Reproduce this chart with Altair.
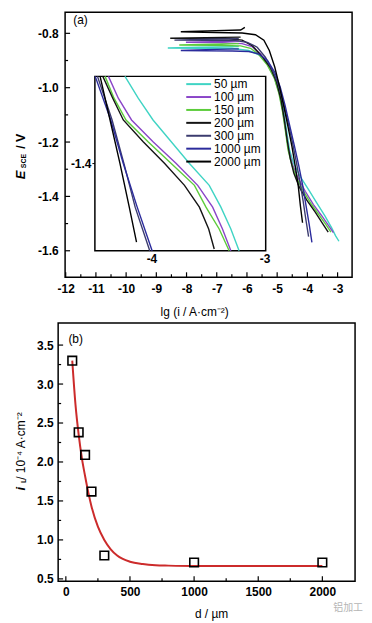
import altair as alt
import pandas as pd

FONT = "Liberation Sans"
series = ["50 µm", "100 µm", "150 µm", "200 µm", "300 µm", "1000 µm", "2000 µm"]
colors = ["#3fd4c4", "#8a45c8", "#5ccc3a", "#141414", "#3b3b6e", "#2b2b9c", "#000000"]

# ---- panel (a): main polarization curves (lg i, E) ----
lg_50 = [-2.955, -3.065, -3.20, -3.42, -3.69, -3.96, -4.24, -4.46, -4.59, -4.69, -4.79, -4.90, -5.06, -5.28, -5.55, -5.94, -6.49, -7.58, -8.62, -7.58, -6.27]
E_50 = [-1.565, -1.545, -1.515, -1.472, -1.424, -1.375, -1.326, -1.277, -1.229, -1.156, -1.083, -1.022, -0.961, -0.912, -0.882, -0.863, -0.856, -0.855, -0.854, -0.851, -0.849]
lg_100 = [-3.14, -3.31, -3.52, -3.80, -4.07, -4.31, -4.49, -4.62, -4.72, -4.82, -4.93, -5.08, -5.30, -5.55, -5.83, -6.16, -6.92, -8.02, -7.14, -6.27]
E_100 = [-1.533, -1.506, -1.472, -1.430, -1.381, -1.332, -1.284, -1.229, -1.156, -1.083, -1.022, -0.967, -0.918, -0.876, -0.849, -0.838, -0.834, -0.833, -0.831, -0.828]
lg_150 = [-3.22, -3.39, -3.61, -3.88, -4.14, -4.37, -4.52, -4.64, -4.73, -4.83, -4.94, -5.10, -5.33, -5.61, -5.88, -6.21, -7.14, -8.24, -7.14, -6.27]
E_150 = [-1.531, -1.503, -1.469, -1.427, -1.379, -1.330, -1.281, -1.229, -1.156, -1.083, -1.022, -0.963, -0.916, -0.878, -0.855, -0.846, -0.844, -0.843, -0.840, -0.838]
lg_200 = [-3.31, -3.50, -3.74, -4.02, -4.27, -4.45, -4.57, -4.67, -4.76, -4.87, -5.02, -5.22, -5.50, -5.83, -6.16, -6.60, -7.58, -8.54, -7.36, -6.21]
E_200 = [-1.531, -1.499, -1.458, -1.414, -1.365, -1.314, -1.259, -1.192, -1.119, -1.046, -0.979, -0.927, -0.885, -0.845, -0.825, -0.820, -0.819, -0.818, -0.816, -0.814]
lg_300 = [-3.96, -4.05, -4.14, -4.24, -4.36, -4.49, -4.63, -4.79, -4.95, -5.15, -5.39, -5.66, -5.99, -6.38, -7.36, -8.40, -7.36, -6.27]
E_300 = [-1.548, -1.485, -1.417, -1.350, -1.277, -1.204, -1.131, -1.058, -0.991, -0.937, -0.888, -0.851, -0.833, -0.827, -0.826, -0.825, -0.822, -0.820]
lg_1000 = [-3.85, -3.94, -4.05, -4.16, -4.29, -4.435, -4.59, -4.74, -4.90, -5.08, -5.32, -5.61, -5.94, -6.49, -7.36, -8.19, -7.36, -6.27]
E_1000 = [-1.569, -1.503, -1.430, -1.357, -1.284, -1.211, -1.137, -1.064, -0.997, -0.943, -0.900, -0.876, -0.867, -0.865, -0.864, -0.863, -0.860, -0.857]
lg_2000 = [-4.16, -4.23, -4.30, -4.40, -4.51, -4.64, -4.775, -4.92, -5.08, -5.26, -5.44, -5.72, -6.16, -7.03, -8.19, -7.03, -6.21, -6.07]
E_2000 = [-1.497, -1.436, -1.363, -1.290, -1.217, -1.144, -1.071, -0.997, -0.924, -0.863, -0.825, -0.805, -0.799, -0.797, -0.794, -0.790, -0.788, -0.778]

# ---- panel (a): inset curves ----
ilg_50 = [-4.234, -4.117, -3.986, -3.825, -3.664, -3.489, -3.386, -3.298, -3.225]
iE_50 = [-1.300, -1.325, -1.350, -1.375, -1.400, -1.425, -1.450, -1.475, -1.500]
ilg_100 = [-4.380, -4.293, -4.176, -3.986, -3.781, -3.591, -3.459, -3.372, -3.298]
iE_100 = [-1.300, -1.325, -1.350, -1.375, -1.400, -1.425, -1.450, -1.475, -1.500]
ilg_150 = [-4.410, -4.331, -4.225, -4.030, -3.825, -3.620, -3.518, -3.401, -3.313]
iE_150 = [-1.300, -1.325, -1.350, -1.375, -1.400, -1.425, -1.450, -1.475, -1.500]
ilg_200 = [-4.430, -4.342, -4.249, -4.073, -3.883, -3.708, -3.576, -3.494, -3.445]
iE_200 = [-1.300, -1.325, -1.350, -1.375, -1.400, -1.425, -1.450, -1.475, -1.498]
ilg_300 = [-4.477, -4.348, -4.243, -4.144, -4.015]
iE_300 = [-1.300, -1.350, -1.400, -1.450, -1.500]
ilg_1000 = [-4.497, -4.360, -4.249, -4.126, -3.994]
iE_1000 = [-1.300, -1.350, -1.400, -1.450, -1.500]
ilg_2000 = [-4.454, -4.366, -4.278, -4.196, -4.132]
iE_2000 = [-1.300, -1.350, -1.400, -1.450, -1.490]

# ---- panel (b) ----
d_pts = [50, 100, 150, 200, 300, 1000, 2000]
iL_pts = [3.30, 2.38, 2.09, 1.62, 0.80, 0.71, 0.71]
d_fit = [50, 75, 100, 125, 150, 175, 200, 250, 300, 350, 400, 500, 600, 700, 800, 1000, 1500, 2000]
iL_fit = [3.30, 2.74, 2.35, 2.05, 1.82, 1.61, 1.43, 1.17, 1.00, 0.88, 0.80, 0.72, 0.69, 0.675, 0.67, 0.665, 0.665, 0.665]

# tick values
ax_major = [-12, -11, -10, -9, -8, -7, -6, -5, -4, -3]
ax_minor = [-11.5, -10.5, -9.5, -8.5, -7.5, -6.5, -5.5, -4.5, -3.5]
ay_major = [-0.8, -1.0, -1.2, -1.4, -1.6]
ay_minor = [-0.9, -1.1, -1.3, -1.5]
bx_major = [0, 500, 1000, 1500, 2000]
bx_minor = [250, 750, 1250, 1750]
by_major = [0.5, 1.0, 1.5, 2.0, 2.5, 3.0, 3.5]
by_minor = [0.75, 1.25, 1.75, 2.25, 2.75, 3.25]

main_sets = [(lg_50, E_50), (lg_100, E_100), (lg_150, E_150), (lg_200, E_200),
             (lg_300, E_300), (lg_1000, E_1000), (lg_2000, E_2000)]
inset_sets = [(ilg_50, iE_50), (ilg_100, iE_100), (ilg_150, iE_150), (ilg_200, iE_200),
              (ilg_300, iE_300), (ilg_1000, iE_1000), (ilg_2000, iE_2000)]


def to_frame(sets):
    rows = []
    for name, (xs, ys) in zip(series, sets):
        for k, (xv, yv) in enumerate(zip(xs, ys)):
            rows.append({"series": name, "k": k, "lg": xv, "E": yv})
    return pd.DataFrame(rows)


df_main = to_frame(main_sets)
df_inset = to_frame(inset_sets)

# panel (a) plot group shares the left origin of panel (b); its frame starts 7 px in
WA, HA, LA = 296, 267, 7
WB, HB = 299, 260
MINUS = "replace(datum.label, '\u2212', '-')"
XDOM_A = [-12.02, -2.52]
YDOM_A = [-1.6975, -0.722]

xsA = alt.Scale(domain=XDOM_A, range=[LA, WA], nice=False, zero=False)
ysA = alt.Scale(domain=YDOM_A, nice=False, zero=False)
xsI = alt.Scale(domain=[-4.5, -2.99], range=[30 + LA, 202 + LA], nice=False, zero=False)
ysI = alt.Scale(domain=[-1.5, -1.3], range=[240.3, 64.7], nice=False, zero=False)
xsB = alt.Scale(domain=[-60, 2255], nice=False, zero=False)
ysB = alt.Scale(domain=[0.471, 3.784], nice=False, zero=False)

axA_x = alt.Axis(values=ax_major, format="d", labelExpr=MINUS, labelOverlap=False, labelFlush=False,
                 labelPadding=6, title="lg (i / A·cm⁻²)", titleX=137, titlePadding=13)
axA_y = alt.Axis(values=ay_major, format=".1f", labelExpr=MINUS, labelOverlap=False, offset=-LA,
                 labelPadding=7, title=None)
axI_x = alt.Axis(orient="bottom", offset=-26.7, values=[-4, -3], format="d", labelExpr=MINUS,
                 labelOverlap=False, labelFlush=False, labelPadding=3, title=None)
axI_y = alt.Axis(orient="left", offset=-(30 + LA), values=[-1.4], format=".1f", labelExpr=MINUS,
                 ticks=True, tickSize=3, tickColor="black", labelPadding=1, title=None)
axB_x = alt.Axis(values=bx_major, format="d", labelPadding=5, labelOverlap=False, labelFlush=False,
                 title="d / µm", titleX=154, titlePadding=12)
axB_y = alt.Axis(values=by_major, format=".1f", labelPadding=5, labelOverlap=False, title=None)

color = alt.Color("series:N", scale=alt.Scale(domain=series, range=colors),
                  legend=alt.Legend(orient="none", legendX=128.5 + LA, legendY=66.5, title=None,
                                    symbolType="M-2.5,0H2.5", symbolSize=100, symbolStrokeWidth=2,
                                    labelFont=FONT, labelFontSize=12, labelColor="black",
                                    labelOffset=9.5, rowPadding=1.0, padding=0))


def X(field, scale, axis):
    return alt.X(field, scale=scale, axis=axis)


def Y(field, scale, axis):
    return alt.Y(field, scale=scale, axis=axis)


main_lines = alt.Chart(df_main).mark_line(strokeWidth=1.4).encode(
    x=X("lg:Q", xsA, axA_x), y=Y("E:Q", ysA, axA_y), color=color, order="k:Q")

frame_a = alt.Chart(pd.DataFrame({"x1": [XDOM_A[0]], "x2": [XDOM_A[1]], "y1": [YDOM_A[0]], "y2": [YDOM_A[1]]})).mark_rect(
    fillOpacity=0, stroke="black", strokeWidth=1.5).encode(
    x=X("x1:Q", xsA, axA_x), x2="x2:Q", y=Y("y1:Q", ysA, axA_y), y2="y2:Q")


def xt(vals, scale, axis, H, size):
    return alt.Chart(pd.DataFrame({"v": vals})).mark_rule(color="black", strokeWidth=1.2).encode(
        x=X("v:Q", scale, axis), y=alt.value(H), y2=alt.value(H - size))


def yt(vals, scale, axis, x0, size):
    return alt.Chart(pd.DataFrame({"v": vals})).mark_rule(color="black", strokeWidth=1.2).encode(
        y=Y("v:Q", scale, axis), x=alt.value(x0), x2=alt.value(x0 + size))


def vtext(t, x, y, size, style="normal", weight="bold"):
    return alt.Chart(pd.DataFrame({"t": [t]})).mark_text(
        angle=270, align="center", baseline="middle", font=FONT, fontSize=size,
        fontStyle=style, fontWeight=weight, color="black").encode(
        text="t:N", x=alt.value(x), y=alt.value(y))


label_a = alt.Chart(pd.DataFrame({"x": [-11.75], "y": [-0.75], "t": ["(a)"]})).mark_text(
    align="left", baseline="middle", font=FONT, fontSize=12, color="black").encode(
    x=X("x:Q", xsA, axA_x), y=Y("y:Q", ysA, axA_y), text="t:N")

main = alt.layer(
    main_lines, frame_a,
    xt(ax_major, xsA, axA_x, HA, 5), xt(ax_minor, xsA, axA_x, HA, 3),
    yt(ay_major, ysA, axA_y, LA, 5), yt(ay_minor, ysA, axA_y, LA, 3),
    label_a,
    vtext("E", -37, 164, 13, "italic"), vtext("SCE", -34, 150, 7), vtext("/ V", -37, 130, 12.5),
)

inset_box = alt.Chart(pd.DataFrame({"x1": [-4.5], "x2": [-2.99], "y1": [-1.5], "y2": [-1.3]})).mark_rect(
    fill="white", stroke="black", strokeWidth=1.5).encode(
    x=X("x1:Q", xsI, axI_x), x2="x2:Q", y=Y("y1:Q", ysI, axI_y), y2="y2:Q")

inset_lines = alt.Chart(df_inset).mark_line(strokeWidth=1.4).encode(
    x=X("lg:Q", xsI, axI_x), y=Y("E:Q", ysI, axI_y), color=color, order="k:Q")

inset = alt.layer(inset_box, inset_lines)

panel_a = alt.layer(main, inset).resolve_scale(x="independent", y="independent").properties(
    width=WA, height=HA, view=alt.ViewBackground(stroke="transparent"))

# ---- panel (b) ----
fit = alt.Chart(pd.DataFrame({"d": d_fit, "iL": iL_fit})).mark_line(
    color="#cc2b2b", strokeWidth=2, interpolate="monotone").encode(
    x=X("d:Q", xsB, axB_x), y=Y("iL:Q", ysB, axB_y))

pts = alt.Chart(pd.DataFrame({"d": d_pts, "iL": iL_pts})).mark_point(
    shape="square", filled=False, color="black", size=75, strokeWidth=1.6, opacity=1).encode(
    x=X("d:Q", xsB, axB_x), y=Y("iL:Q", ysB, axB_y))

label_b = alt.Chart(pd.DataFrame({"x": [20], "y": [3.58], "t": ["(b)"]})).mark_text(
    align="left", baseline="middle", font=FONT, fontSize=12, color="black").encode(
    x=X("x:Q", xsB, axB_x), y=Y("y:Q", ysB, axB_y), text="t:N")

wm = alt.Chart(pd.DataFrame({"t": ["铝加工"]})).mark_text(
    align="center", baseline="middle", font="Noto Sans CJK SC", fontSize=10, color="#b5b5b5").encode(
    text="t:N", x=alt.value(292), y=alt.value(287))

panel_b = alt.layer(
    fit, pts,
    xt(bx_major, xsB, axB_x, HB, 5), xt(bx_minor, xsB, axB_x, HB, 3),
    yt(by_major, ysB, axB_y, 0, 5), yt(by_minor, ysB, axB_y, 0, 3),
    label_b,
    vtext("i", -37, 167, 13, "italic"), vtext("L", -34, 159, 7),
    vtext("/ 10⁻⁴ A·cm⁻²", -37, 124, 12, weight="normal"),
    wm,
).properties(width=WB, height=HB)

chart = alt.concat(panel_a, panel_b, columns=1, spacing=3).properties(
    padding={"left": 6.5, "top": 0, "right": 0, "bottom": 0}
).resolve_scale(color="independent").configure_view(
    stroke="black", strokeWidth=1.5
).configure_axis(
    grid=False, domain=False, ticks=False, labelFont=FONT, labelFontSize=12, labelFontWeight="bold",
    labelColor="black", titleFont=FONT, titleFontSize=12, titleFontWeight="normal", titleColor="black"
)

chart.save("out.html", embed_options={"renderer": "svg", "actions": False})
